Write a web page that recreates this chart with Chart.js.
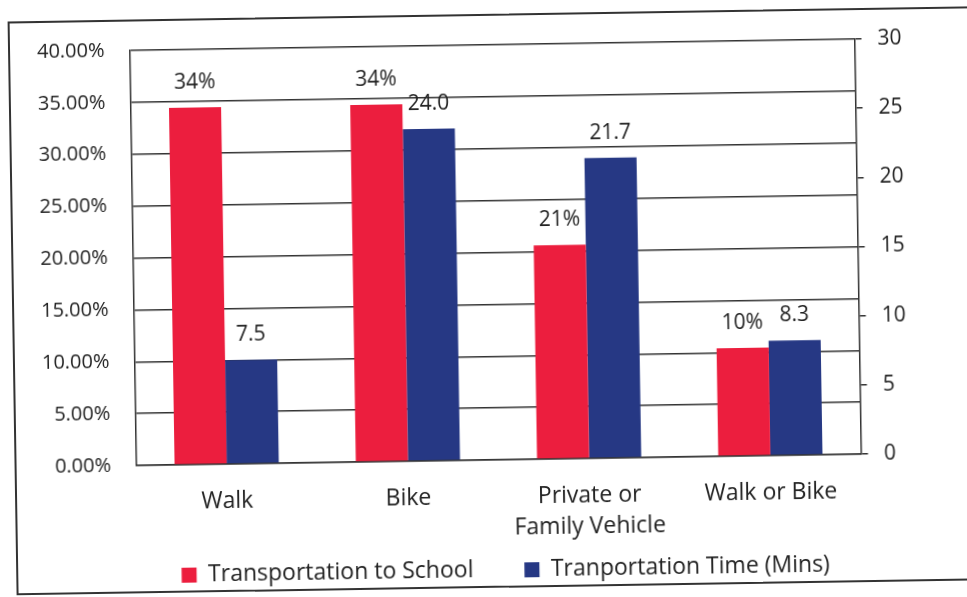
<!DOCTYPE html>
<html>
<head>
<meta charset="utf-8">
<script src="https://cdn.jsdelivr.net/npm/chart.js@4.4.1/dist/chart.umd.min.js"></script>
<style>
  html, body { margin: 0; padding: 0; background: #fff; overflow: hidden; }
  #wrap { position: absolute; left: 0; top: 0; width: 967px; height: 597px; transform: rotate(-0.9deg); }
  #frame { position: absolute; left: 12px; top: 14px; width: 1000px; height: 570px; border: 2px solid #333; }
  #chart { position: absolute; left: 0; top: 0; }
</style>
</head>
<body>
<div id="wrap">
  <div id="frame"></div>
  <canvas id="chart" width="967" height="597"></canvas>
</div>
<script>
  // Данные
  const categories = ['Walk', 'Bike', ['Private or', 'Family Vehicle'], 'Walk or Bike'];
  const schoolShare = [34.4, 34.4, 20.6, 10.4];      // %
  const travelTime = [7.5, 24.0, 21.7, 8.3];          // минуты
  const leftTicks = [0, 5, 10, 15, 20, 25, 30, 35, 40];
  const rightTicks = [0, 5, 10, 15, 20, 25, 30];

  const RED = 'rgb(236, 30, 62)';
  const BLUE = 'rgb(38, 56, 132)';
  const FONT = 'Open Sans';

  // Подписи над столбцами
  const barLabels = {
    id: 'barLabels',
    afterDatasetsDraw(chart) {
      const ctx = chart.ctx;
      ctx.save();
      ctx.font = '21px ' + FONT;
      ctx.fillStyle = '#222';
      ctx.textAlign = 'center';
      ctx.textBaseline = 'alphabetic';
      chart.data.datasets.forEach((ds, i) => {
        chart.getDatasetMeta(i).data.forEach((bar, j) => {
          const v = ds.data[j];
          const txt = i === 0 ? Math.round(v) + '%' : v.toFixed(1);
          ctx.fillText(txt, bar.x, bar.y - 19);
        });
      });
      ctx.restore();
    }
  };

  const ctx = document.getElementById('chart').getContext('2d');
  const chart = new Chart(ctx, {
    type: 'bar',
    data: {
      labels: categories,
      datasets: [{
        label: 'Transportation to School',
        data: schoolShare,
        backgroundColor: RED,
        yAxisID: 'y'
      }, {
        label: 'Tranportation Time (Mins)',
        data: travelTime,
        backgroundColor: BLUE,
        yAxisID: 'y2'
      }]
    },
    options: {
      responsive: false,
      animation: false,
      devicePixelRatio: 1,
      categoryPercentage: 0.575,
      barPercentage: 1,
      layout: { padding: { left: 36, right: 0, top: 45, bottom: 5 } },
      plugins: {
        legend: {
          position: 'bottom',
          labels: {
            font: { family: FONT, size: 23 },
            color: '#222',
            boxWidth: 15,
            boxHeight: 15,
            padding: 51
          }
        },
        tooltip: { enabled: false }
      },
      scales: {
        x: {
          grid: { display: false },
          border: { display: true, color: '#333', width: 1.5 },
          ticks: { font: { family: FONT, size: 23, lineHeight: 1.35 }, color: '#222', padding: 14 },
          afterFit: s => {
            s.height = 48;
            // вторая строка подписи уходит ниже оси, не обрезаем её
            s._computeLabelArea = () => null;
          }
        },
        y: {
          position: 'left',
          min: 0,
          max: 40,
          afterBuildTicks: s => { s.ticks = leftTicks.map(v => ({ value: v })); },
          grid: { color: '#333', lineWidth: 1.5, drawTicks: false },
          border: { display: true, color: '#333', width: 1.5 },
          ticks: {
            font: { family: FONT, size: 20 },
            color: '#222',
            padding: 25,
            callback: v => v.toFixed(2) + '%'
          },
          afterFit: s => { s.width = 97.5; }
        },
        y2: {
          position: 'right',
          min: 0,
          max: 30,
          afterBuildTicks: s => { s.ticks = rightTicks.map(v => ({ value: v })); },
          grid: { drawOnChartArea: false, drawTicks: true, tickLength: 7, color: '#333', lineWidth: 1.5 },
          border: { display: true, color: '#333', width: 1.5 },
          ticks: { font: { family: FONT, size: 21 }, color: '#222', padding: 16 },
          afterFit: s => { s.width = 108.5; }
        }
      }
    },
    plugins: [barLabels]
  });
</script>
</body>
</html>
